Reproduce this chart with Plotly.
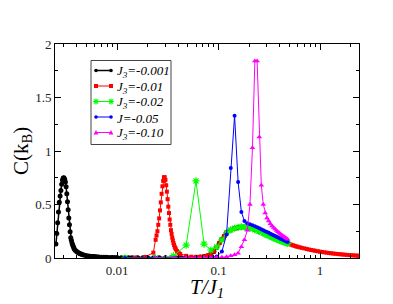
import plotly.graph_objects as go

# ---------------- data ----------------
T_black = [0.00250, 0.00255, 0.00260, 0.00265, 0.00270, 0.00275, 0.00280, 0.00285, 0.00290, 0.00295,
           0.00300, 0.00305, 0.00310, 0.00315, 0.00320, 0.00325, 0.00330, 0.00335, 0.00340, 0.00345,
           0.00350, 0.00355, 0.00360, 0.00365, 0.00370, 0.00375, 0.00380, 0.0039, 0.0040, 0.0041,
           0.0042, 0.0043, 0.0044, 0.0045, 0.0046, 0.0048, 0.0050, 0.0052, 0.0054, 0.0056,
           0.0058, 0.0060, 0.0063, 0.0066, 0.0070, 0.0074, 0.0078, 0.0083, 0.0088, 0.0094,
           0.010, 0.011, 0.012, 0.013, 0.014, 0.016, 0.018, 0.020, 0.023, 0.026,
           0.030, 0.034, 0.038, 0.043, 0.048, 0.054, 0.060, 0.066, 0.072, 0.078,
           0.084, 0.090, 0.096, 0.102, 0.108, 0.114, 0.120, 0.132, 0.144, 0.156,
           0.168, 0.180, 0.192, 0.204, 0.228, 0.252, 0.276, 0.300, 0.336, 0.372,
           0.408, 0.444, 0.480]
C_black = [0.13, 0.23, 0.33, 0.43, 0.52, 0.58, 0.63, 0.69, 0.73, 0.748,
           0.75, 0.735, 0.71, 0.665, 0.60, 0.525, 0.45, 0.375, 0.31, 0.245,
           0.19, 0.165, 0.14, 0.125, 0.11, 0.095, 0.082, 0.07, 0.06, 0.053,
           0.047, 0.042, 0.038, 0.034, 0.031, 0.026, 0.022, 0.019, 0.017, 0.015,
           0.014, 0.013, 0.011, 0.01, 0.008, 0.007, 0.006, 0.005, 0.005, 0.004,
           0.004, 0.003, 0.003, 0.003, 0.002, 0.002, 0.002, 0.002, 0.002, 0.002,
           0.002, 0.002, 0.002, 0.002, 0.003, 0.004, 0.006, 0.009, 0.013, 0.02,
           0.03, 0.06, 0.10, 0.14, 0.175, 0.205, 0.235, 0.262, 0.278, 0.286,
           0.29, 0.289, 0.286, 0.281, 0.266, 0.249, 0.233, 0.216, 0.195, 0.177,
           0.162, 0.149, 0.137]

T_red = [0.012, 0.015, 0.019, 0.0228,
         0.0240, 0.0245, 0.0250, 0.0255, 0.0260, 0.0265, 0.0270, 0.0275, 0.0280, 0.0285,
         0.0290, 0.0295, 0.0300, 0.0305, 0.0310, 0.0315, 0.0320, 0.0325, 0.0330, 0.0335,
         0.0340, 0.0345, 0.0350, 0.0355, 0.0360, 0.0365, 0.0370, 0.0375, 0.0380, 0.0390,
         0.0400, 0.0410, 0.0420,
         0.048, 0.054, 0.060, 0.066, 0.072, 0.078, 0.084, 0.090,
         0.096, 0.102, 0.108, 0.114, 0.120, 0.132, 0.144, 0.156, 0.168, 0.180,
         0.192, 0.204, 0.228, 0.252, 0.276, 0.300, 0.336, 0.372, 0.408, 0.444, 0.480,
         0.50, 0.52, 0.54, 0.56, 0.58, 0.60, 0.63, 0.66, 0.70, 0.74,
         0.78, 0.82, 0.86, 0.90, 0.95, 1.00, 1.05, 1.10, 1.16, 1.22,
         1.28, 1.35, 1.42, 1.50, 1.58, 1.66, 1.75, 1.84, 1.94, 2.04,
         2.14, 2.25, 2.36, 2.45]
C_red = [0.0, 0.005, 0.01, 0.05,
         0.17, 0.21, 0.25, 0.31, 0.37, 0.445, 0.52, 0.60, 0.67, 0.72,
         0.755, 0.755, 0.73, 0.68, 0.62, 0.55, 0.48, 0.42, 0.36, 0.31,
         0.26, 0.225, 0.19, 0.165, 0.14, 0.122, 0.105, 0.092, 0.08, 0.065,
         0.052, 0.043, 0.037,
         0.02, 0.012, 0.01, 0.011, 0.015, 0.022, 0.035, 0.062,
         0.10, 0.14, 0.175, 0.205, 0.235, 0.262, 0.278, 0.286, 0.29, 0.289,
         0.286, 0.281, 0.266, 0.249, 0.233, 0.216, 0.195, 0.177, 0.162, 0.149, 0.137,
         0.13, 0.124, 0.119, 0.114, 0.109, 0.105, 0.100, 0.095, 0.09, 0.084,
         0.079, 0.075, 0.071, 0.067, 0.063, 0.059, 0.056, 0.053, 0.05, 0.047,
         0.044, 0.042, 0.039, 0.037, 0.035, 0.033, 0.031, 0.029, 0.027, 0.026,
         0.024, 0.023, 0.021, 0.02]

T_step = [0.012, 0.024, 0.036, 0.048, 0.060, 0.072, 0.084, 0.096, 0.108, 0.120,
          0.132, 0.144, 0.156, 0.168, 0.180, 0.192, 0.204, 0.216, 0.228, 0.240,
          0.252, 0.264, 0.276, 0.288, 0.300, 0.312, 0.324, 0.336, 0.348, 0.360,
          0.372, 0.384, 0.396, 0.408, 0.420, 0.432, 0.444, 0.456, 0.468, 0.480]

C_green = [0.0, 0.0, 0.02, 0.12, 0.72, 0.13, 0.075, 0.105, 0.17, 0.235,
           0.262, 0.278, 0.286, 0.29, 0.289, 0.286, 0.281, 0.274, 0.266, 0.258,
           0.249, 0.241, 0.233, 0.224, 0.216, 0.209, 0.202, 0.195, 0.189, 0.183,
           0.177, 0.172, 0.167, 0.162, 0.157, 0.153, 0.149, 0.145, 0.141, 0.137]

C_blue = [0.0, 0.0, 0.0, 0.0, 0.0, 0.0, 0.003, 0.015, 0.06, 0.22,
          0.84, 1.33, 0.71, 0.43, 0.345, 0.325, 0.315, 0.305, 0.296, 0.287,
          0.278, 0.269, 0.26, 0.251, 0.243, 0.235, 0.227, 0.22, 0.213, 0.206,
          0.199, 0.193, 0.187, 0.181, 0.175, 0.17, 0.165, 0.16, 0.155, 0.15]

T_mag = T_step[1:]
C_mag = [0.0, 0.0, 0.0, 0.0, 0.001, 0.002, 0.004, 0.007, 0.012,
         0.02, 0.03, 0.045, 0.105, 0.17, 0.26, 0.50, 1.03, 1.84, 1.84,
         1.13, 0.68, 0.50, 0.42, 0.375, 0.345, 0.32, 0.30, 0.285, 0.27,
         0.257, 0.245, 0.234, 0.224, 0.215, 0.206, 0.198, 0.19, 0.183, 0.176]

series_names = ["<i>J<sub>3</sub>=-0.001</i>", "<i>J<sub>3</sub>=-0.01</i>",
                "<i>J<sub>3</sub>=-0.02</i>", "<i>J=-0.05</i>", "<i>J<sub>3</sub>=-0.10</i>"]
series_colors = ["#000000", "#ff0000", "#00ff00", "#0000ff", "#ff00ff"]

x_tickvals = [0.01, 0.1, 1]
x_ticktext = ["0.01", "0.1", "1"]

# ---------------- figure ----------------
serif = "Liberation Serif"
fig = go.Figure()
fig.add_trace(go.Scatter(x=T_black, y=C_black, mode="lines+markers", name=series_names[0],
                         line=dict(color=series_colors[0], width=1.5),
                         marker=dict(symbol="circle", size=5, color=series_colors[0])))
fig.add_trace(go.Scatter(x=T_red, y=C_red, mode="lines+markers", name=series_names[1],
                         line=dict(color=series_colors[1], width=1),
                         marker=dict(symbol="square", size=4, color=series_colors[1])))
fig.add_trace(go.Scatter(x=T_step, y=C_green, mode="lines+markers", name=series_names[2],
                         line=dict(color=series_colors[2], width=1),
                         marker=dict(symbol="asterisk-open", size=6,
                                     line=dict(color=series_colors[2], width=1.2))))
fig.add_trace(go.Scatter(x=T_step, y=C_blue, mode="lines+markers", name=series_names[3],
                         line=dict(color=series_colors[3], width=1),
                         marker=dict(symbol="circle", size=4, color=series_colors[3])))
fig.add_trace(go.Scatter(x=T_mag, y=C_mag, mode="lines+markers", name=series_names[4],
                         line=dict(color=series_colors[4], width=1),
                         marker=dict(symbol="triangle-up", size=5, color=series_colors[4])))

# page has an 8px body margin, so the figure is 8px smaller each way
fig.update_layout(
    width=385, height=296,
    margin=dict(l=47, r=34, t=36, b=46),
    paper_bgcolor="white", plot_bgcolor="white",
    font=dict(family=serif, size=13, color="#222"),
    showlegend=False,
)
fig.update_xaxes(type="log", range=[-2.611, 0.384],
                 tickvals=x_tickvals, ticktext=x_ticktext,
                 showline=True, linecolor="black", linewidth=1, mirror="allticks",
                 ticks="inside", ticklen=6, tickcolor="black", showgrid=False,
                 zeroline=False,
                 minor=dict(ticks="inside", ticklen=3, tickcolor="black", dtick="D1",
                            showgrid=False),
                 tickfont=dict(family=serif, size=13, color="#222"))
fig.update_yaxes(range=[0, 2], dtick=0.5,
                 showline=True, linecolor="black", linewidth=1, mirror="allticks",
                 ticks="inside", ticklen=6, tickcolor="black", showgrid=False,
                 zeroline=False,
                 minor=dict(ticks="inside", ticklen=3, tickcolor="black", dtick=0.25,
                            showgrid=False),
                 tickfont=dict(family=serif, size=13, color="#222"))

# ---------------- legend (drawn as a boxed key in paper space) ----------------
PW, PH, PX0, PY0 = 304.0, 214.0, 55.0, 258.0   # plot size / origin in window px
def fx(px):
    return (px - PX0) / PW
def fy(py):
    return (PY0 - py) / PH

shapes = [dict(type="rect", xref="paper", yref="paper",
               x0=fx(91), x1=fx(171), y0=fy(144.5), y1=fy(60.5),
               line=dict(color="#444", width=1), fillcolor="white", layer="above")]
row_py = [70.5, 86.0, 101.5, 117.0, 132.5]
lx0, lx1, tx = 96.0, 111.0, 115.0
for i, py in enumerate(row_py):
    col = series_colors[i]
    y = fy(py)
    shapes.append(dict(type="line", xref="paper", yref="paper",
                       x0=fx(lx0), x1=fx(lx1), y0=y, y1=y,
                       line=dict(color=col, width=1.5 if i == 0 else 1), layer="above"))
    for mx in (lx0, lx1):
        if i in (0, 3):
            r = 1.8
            shapes.append(dict(type="circle", xref="paper", yref="paper",
                               x0=fx(mx - r), x1=fx(mx + r), y0=fy(py + r), y1=fy(py - r),
                               line=dict(color=col, width=0), fillcolor=col, layer="above"))
        elif i == 1:
            r = 2.0
            shapes.append(dict(type="rect", xref="paper", yref="paper",
                               x0=fx(mx - r), x1=fx(mx + r), y0=fy(py + r), y1=fy(py - r),
                               line=dict(color=col, width=0), fillcolor=col, layer="above"))
        elif i == 2:
            r = 3.0
            d = 2.1
            path = (f"M{fx(mx - r)},{fy(py)} L{fx(mx + r)},{fy(py)} "
                    f"M{fx(mx)},{fy(py - r)} L{fx(mx)},{fy(py + r)} "
                    f"M{fx(mx - d)},{fy(py - d)} L{fx(mx + d)},{fy(py + d)} "
                    f"M{fx(mx - d)},{fy(py + d)} L{fx(mx + d)},{fy(py - d)}")
            shapes.append(dict(type="path", xref="paper", yref="paper", path=path,
                               line=dict(color=col, width=1.1), layer="above"))
        else:
            r = 2.4
            path = (f"M{fx(mx - r)},{fy(py + r * 0.8)} L{fx(mx + r)},{fy(py + r * 0.8)} "
                    f"L{fx(mx)},{fy(py - r)} Z")
            shapes.append(dict(type="path", xref="paper", yref="paper", path=path,
                               line=dict(color=col, width=0), fillcolor=col, layer="above"))
    fig.add_annotation(text=series_names[i], showarrow=False, xref="paper", yref="paper",
                       x=fx(tx), y=y, xanchor="left", yanchor="middle", yshift=-1,
                       font=dict(family=serif, size=13, color="black"))
fig.update_layout(shapes=shapes)

# ---------------- axis titles ----------------
fig.add_annotation(text="C(k<sub>B</sub>)", textangle=-90, showarrow=False,
                   xref="paper", yref="paper", x=fx(22), y=0.5,
                   xanchor="center", yanchor="middle",
                   font=dict(family=serif, size=21, color="black"))
fig.add_annotation(text="<i>T/J<sub>1</sub></i>", showarrow=False,
                   xref="paper", yref="paper", x=0.5, y=fy(273),
                   xanchor="center", yanchor="top",
                   font=dict(family=serif, size=21, color="black"))

fig.write_html("out.html")
